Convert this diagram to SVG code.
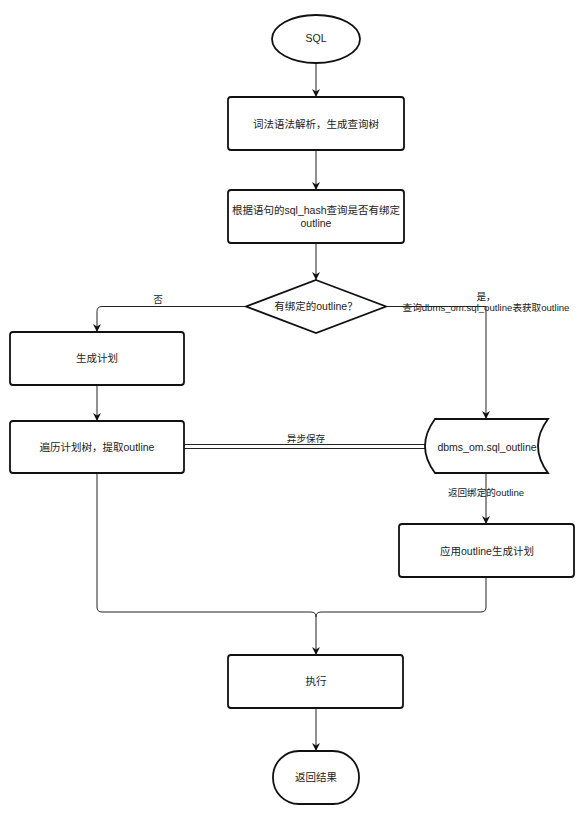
<svg xmlns="http://www.w3.org/2000/svg" width="583" height="813" viewBox="0 0 583 813">
<style>
.shape{fill:#fff;stroke:#111;stroke-width:1.8}
.edge{fill:none;stroke:#222;stroke-width:1}
.t{font-family:"Liberation Sans","Noto Sans CJK SC",sans-serif;font-size:10.5px;fill:#222;text-anchor:middle}
.el{font-family:"Liberation Sans","Noto Sans CJK SC",sans-serif;font-size:9.6px;fill:#222;text-anchor:middle}
</style>
<defs>
<marker id="arr" viewBox="0 0 10 10" refX="10" refY="5" markerWidth="8" markerHeight="8" markerUnits="userSpaceOnUse" orient="auto">
<path d="M0,0 L10,5 L0,10 L3,5 z" fill="#111"/>
</marker>
</defs>
<rect width="583" height="813" fill="#fff"/>
<g id="connectors">
<line class="edge" x1="316" y1="63" x2="316" y2="97" marker-end="url(#arr)"/>
<line class="edge" x1="316" y1="150" x2="316" y2="190" marker-end="url(#arr)"/>
<line class="edge" x1="316" y1="243" x2="316" y2="280" marker-end="url(#arr)"/>
<path class="edge" d="M246,306.5 H102 Q97,306.5 97,311.5 V332" marker-end="url(#arr)"/>
<path class="edge" d="M386,306.5 H486 V419" marker-end="url(#arr)"/>
<line class="edge" x1="97" y1="385" x2="97" y2="421" marker-end="url(#arr)"/>
<line class="edge" x1="184" y1="444.5" x2="425" y2="444.5"/>
<line class="edge" x1="184" y1="448.5" x2="425" y2="448.5"/>
<line class="edge" x1="486" y1="473" x2="486" y2="524" marker-end="url(#arr)"/>
<path class="edge" d="M97,473 V607 Q97,612 102,612 H311 Q316,612 316,617 V655" marker-end="url(#arr)"/>
<path class="edge" d="M486,577 V607 Q486,612 481,612 H321 Q316,612 316,617"/>
<line class="edge" x1="316" y1="708" x2="316" y2="751" marker-end="url(#arr)"/>
<text class="el" x="158" y="302.5">否</text>
<text class="el" x="486" y="299.5">是，</text>
<text class="el" x="486" y="310.5">查询dbms_om.sql_outline表获取outline</text>
<text class="el" x="306" y="442">异步保存</text>
<text class="el" x="486" y="495.5">返回绑定的outline</text>
</g>
<g id="start">
<ellipse class="shape" cx="316" cy="39" rx="44" ry="24"/>
<text class="t" x="316" y="41.5">SQL</text>
</g>
<g id="parse">
<rect class="shape" x="228" y="97" width="176" height="53" rx="3"/>
<text class="t" x="316" y="127.5">词法语法解析，生成查询树</text>
</g>
<g id="lookup">
<rect class="shape" x="228" y="190" width="176" height="53" rx="3"/>
<text class="t" x="316" y="213.5">根据语句的sql_hash查询是否有绑定</text>
<text class="t" x="316" y="226.5">outline</text>
</g>
<g id="decision">
<polygon class="shape" points="316,280 386,306.5 316,333 246,306.5"/>
<text class="t" x="316" y="310">有绑定的outline？</text>
</g>
<g id="genplan">
<rect class="shape" x="10" y="332" width="174" height="53" rx="3"/>
<text class="t" x="97" y="362">生成计划</text>
</g>
<g id="traverse">
<rect class="shape" x="10" y="421" width="174" height="52" rx="3"/>
<text class="t" x="97" y="450.5">遍历计划树，提取outline</text>
</g>
<g id="storage">
<path class="shape" d="M435,419 H548 Q528,446 548,473 H435 Q415,446 435,419 Z"/>
<text class="t" x="487" y="450.5">dbms_om.sql_outline</text>
</g>
<g id="applyplan">
<rect class="shape" x="399" y="524" width="175" height="53" rx="3"/>
<text class="t" x="487" y="554.5">应用outline生成计划</text>
</g>
<g id="execute">
<rect class="shape" x="228" y="655" width="175" height="53" rx="3"/>
<text class="t" x="316" y="685">执行</text>
</g>
<g id="end">
<rect class="shape" x="273" y="751" width="86" height="53" rx="26" ry="26"/>
<text class="t" x="316" y="780.5">返回结果</text>
</g>
</svg>
